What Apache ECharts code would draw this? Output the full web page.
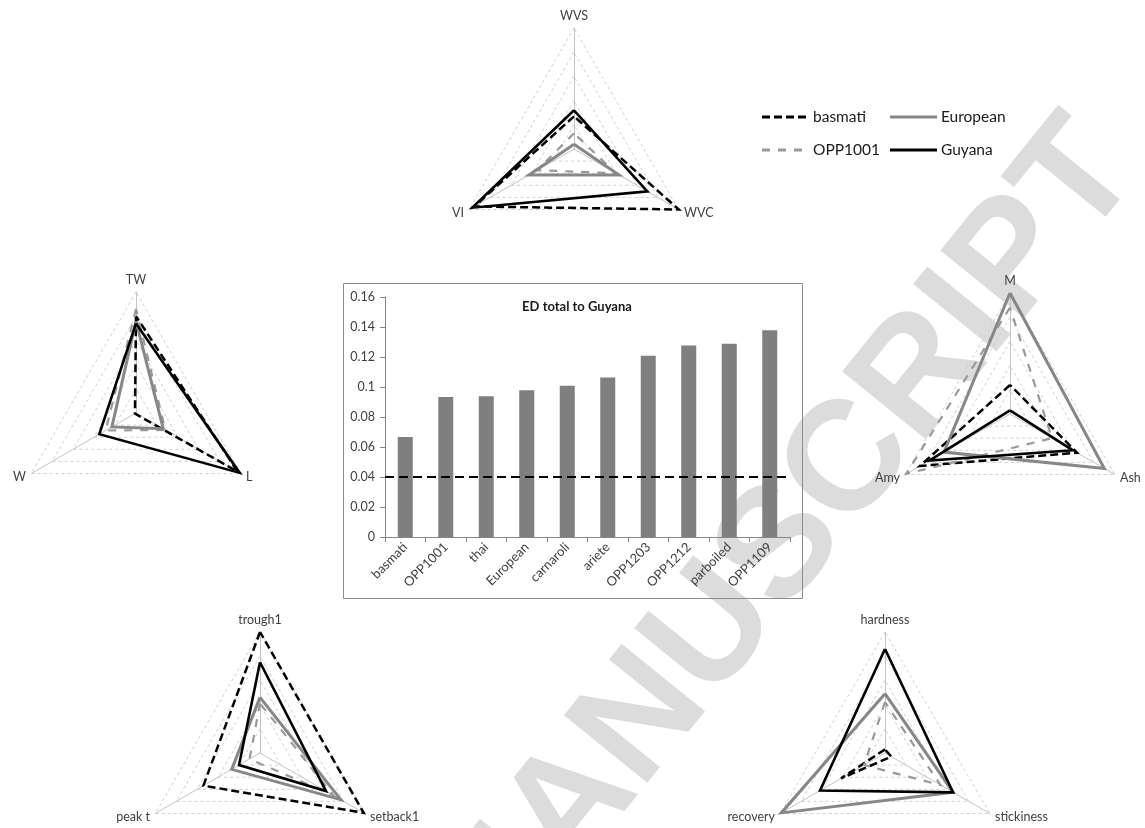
<!DOCTYPE html>
<html>
<head>
<meta charset="utf-8">
<script src="https://cdn.jsdelivr.net/npm/echarts@6/dist/echarts.min.js"></script>
<style>
  html, body { margin: 0; padding: 0; background: #ffffff; }
  #chart { width: 1145px; height: 828px; }
</style>
</head>
<body>
<div id="chart"></div>
<script>
// Rice varieties compared in every radar (same order everywhere)
const varieties = ['basmati', 'OPP1001', 'European', 'Guyana'];

// Radar axes and normalised scores (0..1), rows follow `varieties`
const waterAxes = ['WVS', 'VI', 'WVC'];
const waterValues = [
  [0.27, 0.95, 1.00],
  [0.13, 0.35, 0.40],
  [0.04, 0.43, 0.43],
  [0.32, 0.97, 0.70]
];

const grainAxes = ['TW', 'W', 'L'];
const grainValues = [
  [0.80, 0.01, 0.97],
  [0.86, 0.29, 0.28],
  [0.76, 0.23, 0.26],
  [0.74, 0.35, 0.99]
];

const compAxes = ['M', 'Amy', 'Ash'];
const compValues = [
  [0.24, 0.86, 0.64],
  [0.88, 0.99, 0.40],
  [1.00, 0.63, 0.90],
  [0.03, 0.77, 0.60]
];

const pastingAxes = ['trough1', 'peak t', 'setback1'];
const pastingValues = [
  [1.00, 0.54, 0.99],
  [0.41, 0.10, 0.70],
  [0.46, 0.27, 0.77],
  [0.75, 0.20, 0.63]
];

const textureAxes = ['hardness', 'recovery', 'stickiness'];
const textureValues = [
  [0.03, 0.42, 0.06],
  [0.42, 0.20, 0.53],
  [0.49, 0.99, 0.65],
  [0.86, 0.62, 0.65]
];

// Euclidean distance of each variety to Guyana
const edCategories = ['basmati', 'OPP1001', 'thai', 'European', 'carnaroli', 'ariete', 'OPP1203', 'OPP1212', 'parboiled', 'OPP1109'];
const edValues = [0.0667, 0.0933, 0.0938, 0.0978, 0.1009, 0.1064, 0.1209, 0.1276, 0.1289, 0.1378];
const edThreshold = 0.04;
const edTicks = [0, 0.02, 0.04, 0.06, 0.08, 0.1, 0.12, 0.14, 0.16];

// Line look per variety
const lineLooks = [
  { color: '#000000', width: 2.5, type: [8, 4] },
  { color: '#999999', width: 2.2, type: [8, 8] },
  { color: '#878787', width: 3, type: 'solid' },
  { color: '#000000', width: 2.6, type: 'solid' }
];

const FONT = 'Lato, "Liberation Sans", sans-serif';
const TEXT = '#404040';

const radarPanels = [
  { axes: waterAxes, values: waterValues, center: [574, 149] },
  { axes: grainAxes, values: grainValues, center: [136, 413] },
  { axes: compAxes, values: compValues, center: [1010, 414] },
  { axes: pastingAxes, values: pastingValues, center: [260, 753] },
  { axes: textureAxes, values: textureValues, center: [885, 753] }
];

const radars = radarPanels.map(p => ({
  center: p.center,
  radius: 121,
  startAngle: 90,
  splitNumber: 5,
  shape: 'polygon',
  indicator: p.axes.map(n => ({ name: n, max: 1, min: 0 })),
  nameGap: 6,
  axisName: { color: TEXT, fontSize: 12.5, fontFamily: FONT },
  axisLine: { lineStyle: { color: '#c4c4c4', width: 1 } },
  splitLine: { lineStyle: { color: '#cfcfcf', width: 1, type: [3, 3] } },
  splitArea: { show: false },
  axisTick: { show: false },
  axisLabel: { show: false }
}));

const radarSeries = radarPanels.map((p, ri) => ({
  type: 'radar',
  radarIndex: ri,
  symbol: 'none',
  silent: true,
  data: p.values.map((vals, si) => ({
    name: varieties[si],
    value: vals,
    lineStyle: {
      color: lineLooks[si].color,
      width: lineLooks[si].width,
      type: lineLooks[si].type,
      join: 'miter'
    }
  }))
}));

// Legend drawn as two rows of line swatches + labels
const legendSlots = [[762, 117], [762, 150], [890, 117], [890, 150]];
const legendGraphics = [];
varieties.forEach((name, i) => {
  const [x, y] = legendSlots[i];
  legendGraphics.push({
    type: 'line',
    shape: { x1: x, y1: y, x2: x + 47, y2: y },
    style: { stroke: lineLooks[i].color, lineWidth: 3, lineDash: lineLooks[i].type === 'solid' ? null : lineLooks[i].type },
    z: 10
  });
  legendGraphics.push({
    type: 'text',
    x: x + 51, y: y,
    style: { text: name, fill: '#1a1a1a', font: '15.5px ' + FONT, textVerticalAlign: 'middle' },
    z: 10
  });
});

const option = {
  backgroundColor: '#ffffff',
  animation: false,
  title: {
    text: 'ED total to Guyana',
    left: 572, top: 295, textAlign: 'center',
    textStyle: { fontSize: 13, fontWeight: 'bold', color: '#1a1a1a', fontFamily: FONT }
  },
  radar: radars,
  grid: { left: 385, right: 355, top: 297, bottom: 291, containLabel: false },
  xAxis: {
    type: 'category',
    data: edCategories,
    axisLine: { lineStyle: { color: '#868686' } },
    axisTick: { show: true, length: 5, lineStyle: { color: '#868686' } },
    axisLabel: { rotate: 45, color: TEXT, fontSize: 13, fontFamily: FONT, margin: 8 }
  },
  yAxis: {
    type: 'value',
    min: 0, max: 0.16, interval: 0.02,
    axisLine: { show: true, lineStyle: { color: '#868686' } },
    axisTick: { show: true, length: 5, lineStyle: { color: '#868686' } },
    splitLine: { show: false },
    axisLabel: {
      color: TEXT, fontSize: 12.5, fontFamily: FONT, margin: 10,
      formatter: v => { const t = edTicks.find(k => Math.abs(k - v) < 1e-9); return String(t); }
    }
  },
  series: radarSeries.concat([{
    type: 'bar',
    data: edValues,
    barWidth: '37%',
    itemStyle: { color: '#7f7f7f' },
    silent: true,
    markLine: {
      silent: true,
      symbol: 'none',
      label: { show: false },
      lineStyle: { color: '#000000', width: 2, type: [9, 5] },
      data: [{ yAxis: edThreshold }]
    }
  }]),
  graphic: [
    {
      type: 'text',
      x: 782, y: 548,
      rotation: 51 * Math.PI / 180,
      style: { text: 'MANUSCRIPT', fill: '#dcdcdc', font: 'bold 156px "Liberation Sans", sans-serif', textAlign: 'center', textVerticalAlign: 'middle' },
      z: -10, silent: true
    },
    {
      type: 'rect',
      shape: { x: 343.5, y: 283.5, width: 459, height: 315 },
      style: { fill: 'none', stroke: '#8c8c8c', lineWidth: 1 },
      z: 5, silent: true
    }
  ].concat(legendGraphics)
};

const chart = echarts.init(document.getElementById('chart'), null, { renderer: 'canvas' });
chart.setOption(option);
</script>
</body>
</html>
